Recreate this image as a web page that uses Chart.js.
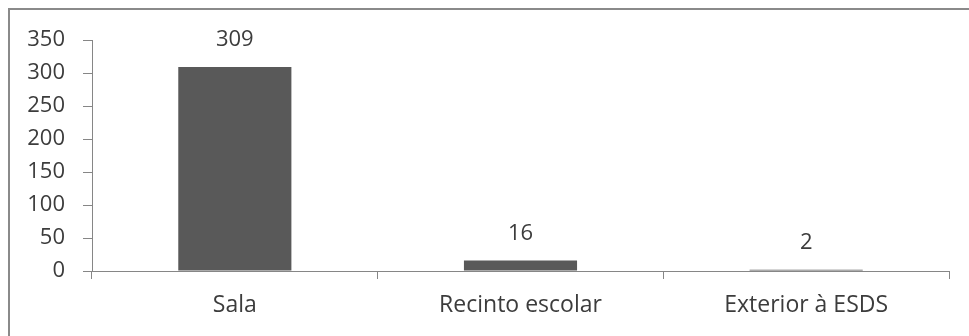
<!DOCTYPE html>
<html>
<head>
<meta charset="utf-8">
<script src="https://cdn.jsdelivr.net/npm/chart.js@4.4.1/dist/chart.umd.min.js"></script>
<style>
  html, body { margin: 0; padding: 0; background: #ffffff; }
  #wrap { position: relative; width: 969px; height: 336px; overflow: hidden; }
  #c { position: absolute; left: 0; top: 0; }
  #frame {
    position: absolute; left: 8px; top: 8px; width: 980px; height: 340px;
    border-top: 2px solid #8a8a8a; border-left: 2px solid #8a8a8a;
    pointer-events: none;
  }
</style>
</head>
<body>
<div id="wrap">
  <canvas id="c" width="969" height="336"></canvas>
  <div id="frame"></div>
</div>
<script>
// Locais de ocorrência e número de casos
const categories = ["Sala", "Recinto escolar", "Exterior à ESDS"];
const values = [309, 16, 2];
const yTicks = [0, 50, 100, 150, 200, 250, 300, 350];

const textColor = "#3c3c3c";
const axisColor = "#868686";
const fontFamily = "'Open Sans', 'DejaVu Sans', sans-serif";

// Rótulos de valor por cima de cada barra
const valueLabels = {
  id: "valueLabels",
  afterDatasetsDraw(chart) {
    const ctx = chart.ctx;
    const meta = chart.getDatasetMeta(0);
    ctx.save();
    ctx.font = "22px " + fontFamily;
    ctx.fillStyle = textColor;
    ctx.textAlign = "center";
    ctx.textBaseline = "middle";
    meta.data.forEach((bar, i) => {
      ctx.fillText(String(chart.data.datasets[0].data[i]), bar.x, bar.y - 27);
    });
    ctx.restore();
  }
};

new Chart(document.getElementById("c"), {
  type: "bar",
  data: {
    labels: categories,
    datasets: [{
      data: values,
      backgroundColor: "#595959",
      borderWidth: 0,
      barPercentage: 0.396,
      categoryPercentage: 1.0
    }]
  },
  options: {
    responsive: false,
    animation: false,
    events: [],
    layout: { padding: { left: 0, top: 40, right: 20, bottom: 0 } },
    plugins: {
      legend: { display: false },
      tooltip: { enabled: false }
    },
    scales: {
      x: {
        grid: {
          offset: true,
          drawOnChartArea: false,
          drawTicks: true,
          tickLength: 8,
          color: axisColor,
          lineWidth: 1
        },
        border: { color: axisColor, width: 1 },
        ticks: {
          color: textColor,
          font: { family: fontFamily, size: 23 },
          padding: 13,
          maxRotation: 0
        },
        afterFit(scale) { scale.height = 65; }
      },
      y: {
        min: 0,
        max: 350,
        afterBuildTicks(scale) { scale.ticks = yTicks.map(v => ({ value: v })); },
        grid: {
          drawOnChartArea: false,
          drawTicks: true,
          tickLength: 9,
          color: axisColor,
          lineWidth: 1
        },
        border: { color: axisColor, width: 1 },
        ticks: {
          color: textColor,
          font: { family: fontFamily, size: 22 },
          padding: 18
        },
        afterFit(scale) { scale.width = 92; }
      }
    }
  },
  plugins: [valueLabels]
});
</script>
</body>
</html>
